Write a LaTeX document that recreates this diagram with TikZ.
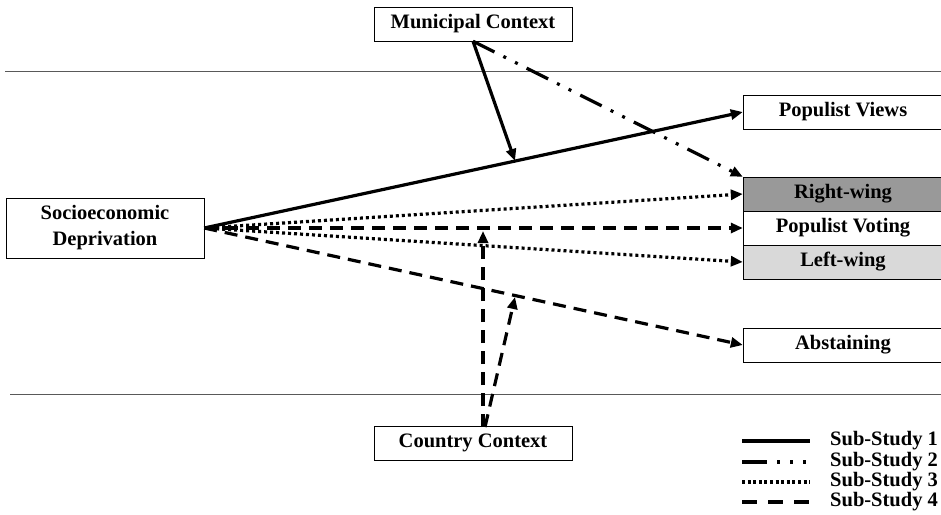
\documentclass[tikz,border=0pt]{standalone}
\usepackage{fontspec}
\setmainfont{Liberation Serif}
\usetikzlibrary{arrows.meta}

\tikzset{
  box/.style={draw, fill=white, minimum width=198pt, minimum height=34pt,
    inner sep=2pt, align=center, font=\fontsize{20.5}{26}\selectfont\bfseries},
  link/.style={line width=3.2pt, -{Triangle[length=12pt,width=10pt]}},
  subone/.style={},
  subtwo/.style={dash pattern=on 24pt off 10pt on 3pt off 10pt on 3pt off 10pt},
  subthree/.style={dash pattern=on 3pt off 3pt},
  subfour/.style={dash pattern=on 13pt off 8pt},
  keytext/.style={anchor=west, inner sep=0pt, font=\fontsize{20.5}{24}\selectfont\bfseries},
  keyline/.style={line width=3.6pt}
}

\begin{document}
\begin{tikzpicture}[x=1pt,y=-1pt]
  \useasboundingbox (0,0) rectangle (941,514);

  \draw[gray!70!black] (5,71) -- (941,71);
  \draw[gray!70!black] (10,394) -- (941,394);

  \begin{scope}[every node/.style={box}]
    \node (muni)    at (473,24)  {Municipal Context};
    \node (country) at (473,443) {Country Context};
    \node[minimum height=60pt] (depr) at (105,228) {Socioeconomic\\Deprivation};
    \node[minimum width=200pt] (views)  at (843,112) {Populist Views};
    \node[minimum width=200pt, fill=black!40] (right) at (843,194) {Right-wing};
    \node[minimum width=200pt] (voting) at (843,228) {Populist Voting};
    \node[minimum width=200pt, fill=black!15] (left)  at (843,262) {Left-wing};
    \node[minimum width=200pt] (abst)   at (843,345) {Abstaining};
  \end{scope}

  % points where the moderators hit the paths
  \coordinate (onviews) at (515,161);
  \coordinate (onvote)  at (483,231);
  \coordinate (onabst)  at (515,297);
  \coordinate (cleft)   at (483,427);
  \coordinate (cright)  at (485,427);

  \begin{scope}[every edge/.style={draw, link}]
    \path (depr.east) edge[subone] (views.west);
    \path (muni.south) edge[subone] (onviews);
    \path (muni.south) edge[subtwo] (right.north west);
    \path (depr.east) edge[subthree] (right.west);
    \path (depr.east) edge[subthree] (left.west);
    \path (depr.east) edge[subfour] (voting.west);
    \path (depr.east) edge[subfour] (abst.west);
    \path (cleft) edge[subfour] (onvote);
    \path (cright) edge[subfour] (onabst);
  \end{scope}

  % legend
  \node[keytext] (k1) at (830,441) {Sub-Study 1};
  \node[keytext] (k2) at (830,462) {Sub-Study 2};
  \node[keytext] (k3) at (830,482) {Sub-Study 3};
  \node[keytext] (k4) at (830,502) {Sub-Study 4};
  \draw[keyline, subone] ([xshift=-88pt]k1.west) -- ([xshift=-20pt]k1.west);
  \draw[keyline, dash pattern=on 25pt off 10pt on 3pt off 10pt on 3pt off 10pt on 3pt off 10pt]
    ([xshift=-88pt]k2.west) -- ([xshift=-20pt]k2.west);
  \draw[keyline, dash pattern=on 3pt off 2.6pt] ([xshift=-88pt]k3.west) -- ([xshift=-20pt]k3.west);
  \draw[keyline, dash pattern=on 15pt off 11pt] ([xshift=-88pt]k4.west) -- ([xshift=-20pt]k4.west);

\end{tikzpicture}
\end{document}
